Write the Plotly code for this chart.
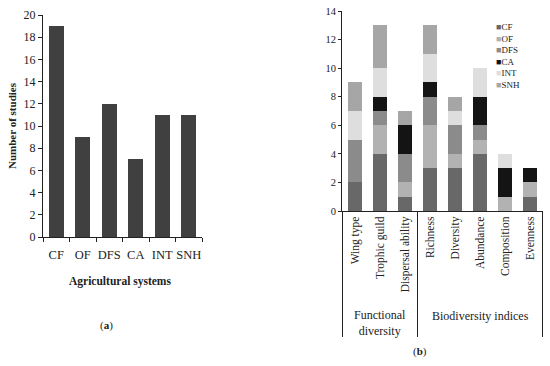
import plotly.graph_objects as go

# Panel (a)
systems = ["CF", "OF", "DFS", "CA", "INT", "SNH"]
n_studies = [19, 9, 12, 7, 11, 11]

# Panel (b)
indices = ["Wing type", "Trophic guild", "Dispersal ability", "Richness",
           "Diversity", "Abundance", "Composition", "Evenness"]
series_names = ["CF", "OF", "DFS", "CA", "INT", "SNH"]
cf  = [2, 4, 1, 3, 3, 4, 0, 1]
of  = [0, 2, 1, 3, 1, 1, 1, 1]
dfs = [3, 1, 2, 2, 2, 1, 0, 0]
ca  = [0, 1, 2, 1, 0, 2, 2, 1]
int_ = [2, 2, 0, 2, 1, 2, 1, 0]
snh = [2, 3, 1, 2, 1, 0, 0, 0]
series_vals = [cf, of, dfs, ca, int_, snh]
series_colors = ["#686868", "#b2b2b2", "#8b8b8b", "#141414", "#dedede", "#a6a6a6"]
groups = ["Functional<br>diversity", "Biodiversity indices"]

FONT = "Liberation Serif"
W, H = 550, 366

def px(x):
    return x / W

def py(y):
    return 1 - y / H

fig = go.Figure()
fig.add_trace(go.Bar(x=systems, y=n_studies, marker=dict(color="#404040", line=dict(width=0)),
                     xaxis="x", yaxis="y", showlegend=False))
for name, vals, col in zip(series_names, series_vals, series_colors):
    fig.add_trace(go.Bar(x=indices, y=vals, name=name,
                         marker=dict(color=col, line=dict(width=0)),
                         xaxis="x2", yaxis="y2", showlegend=False))

axis_common = dict(showgrid=False, zeroline=False, showline=True, linecolor="#222",
                   linewidth=1, ticks="outside", tickcolor="#222",
                   tickfont=dict(family=FONT, size=12, color="#222"))

fig.update_layout(
    width=W, height=H,
    margin=dict(l=0, r=0, t=0, b=0),
    paper_bgcolor="white", plot_bgcolor="white",
    barmode="stack", bargap=0.43,
    showlegend=False,
    xaxis=dict(axis_common, domain=[px(43), px(202)], anchor="y", tickangle=0,
               tickson="boundaries", ticklen=4, automargin=False, ticklabelstandoff=6,
               tickfont=dict(family=FONT, size=12.5, color="#222")),
    yaxis=dict(axis_common, domain=[py(237), py(15)], anchor="x", range=[0, 20],
               dtick=2, ticklen=4, automargin=False),
    xaxis2=dict(axis_common, domain=[px(342), px(543)], anchor="y2", ticks="",
                tickangle=-90, automargin=False,
                tickfont=dict(family=FONT, size=11.5, color="#222")),
    yaxis2=dict(axis_common, domain=[py(211), py(11)], anchor="x2", range=[0, 14],
                dtick=2, ticklen=3, automargin=False,
                tickfont=dict(family=FONT, size=10.5, color="#222")),
)

def ann(text, x, y, xref="paper", size=11, **kw):
    d = dict(text=text, x=x, y=y, xref=xref, yref="paper", showarrow=False,
             xanchor="center", yanchor="middle",
             font=dict(family=FONT, size=size, color="#222"))
    d.update(kw)
    return d

annotations = [
    ann("<b>Number of studies</b>", px(12), py(126), textangle=-90),
    ann("<b>Agricultural systems</b>", px(120), py(281), size=11.5),
    ann("(<b>a</b>)", px(106), py(325)),
    ann("(<b>b</b>)", px(420), py(351)),
    ann(groups[0], 1, py(323), xref="x2", size=12),
    ann(groups[1], 5, py(316), xref="x2", size=12),
]
# custom compact legend
for i, (name, col) in enumerate(zip(series_names, series_colors)):
    annotations.append(ann(f"<span style='color:{col}'>■</span>{name}",
                           px(494), py(27 + i * 11.6), size=9, xanchor="left"))
fig.update_layout(annotations=annotations)

shapes = []
for xb in [-0.5, 2.5, 7.5]:
    shapes.append(dict(type="line", xref="x2", yref="paper", x0=xb, x1=xb,
                       y0=py(211), y1=py(337), line=dict(color="#222", width=1)))
fig.update_layout(shapes=shapes)

fig.write_html("out.html", config={"displayModeBar": False},
               post_script="document.body.style.margin='0';")
